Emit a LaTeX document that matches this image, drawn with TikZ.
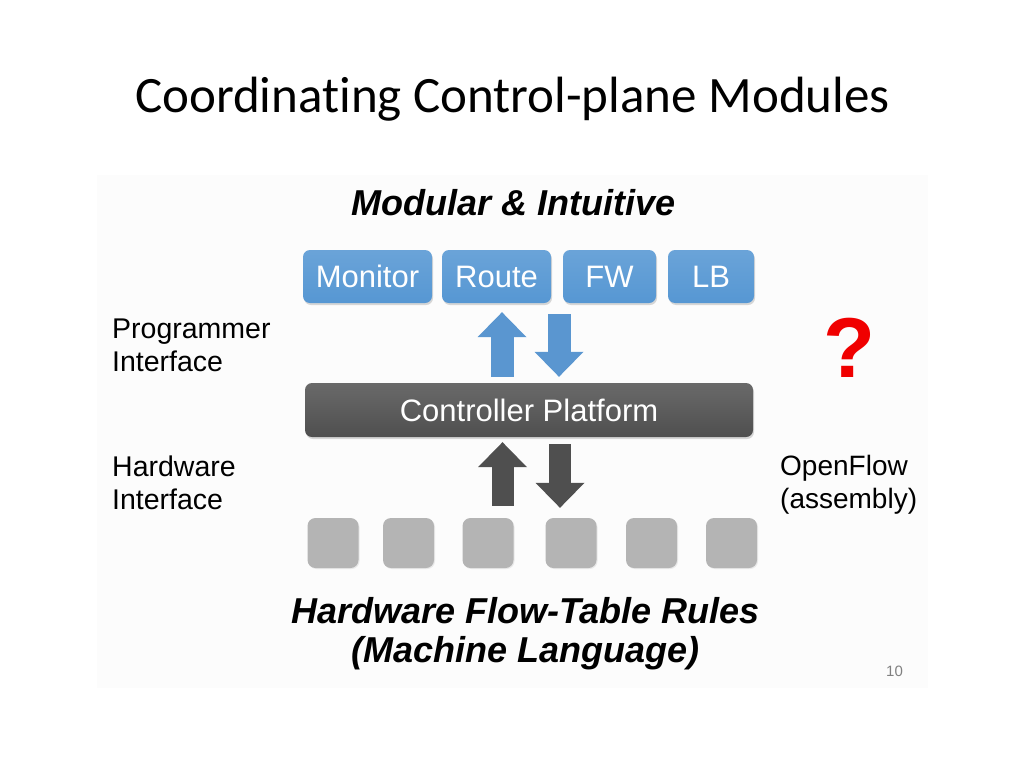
\documentclass[tikz,border=0pt]{standalone}
\usepackage{fontspec}
\setmainfont[Ligatures=NoCommon]{Carlito}
\newfontfamily\lsans{Liberation Sans}
\usetikzlibrary{arrows.meta,shadows}

\definecolor{modblue}{HTML}{5697D3}
\definecolor{arrblue}{HTML}{5A96D0}
\definecolor{ctrlgray}{HTML}{4F4F4F}
\definecolor{hwgray}{HTML}{B4B4B4}
\definecolor{qred}{HTML}{F00000}

\begin{document}
\begin{tikzpicture}[x=1pt,y=-1pt,
    modbox/.style={rounded corners=7pt,top color=modblue!88!white,bottom color=modblue,
        text=white,font=\lsans\fontsize{31}{36}\selectfont,minimum height=53pt,inner sep=0pt,
        drop shadow={opacity=0.3,shadow xshift=1pt,shadow yshift=-2pt}},
    ctrlbox/.style={rounded corners=7pt,top color=ctrlgray!85!white,bottom color=ctrlgray,
        text=white,font=\lsans\fontsize{31}{36}\selectfont,minimum width=448pt,minimum height=54pt,
        inner sep=0pt,drop shadow={opacity=0.3,shadow xshift=1pt,shadow yshift=-2pt}},
    hwbox/.style={rounded corners=8pt,fill=hwgray,minimum width=51pt,minimum height=50pt,
        inner sep=0pt,drop shadow={opacity=0.15,shadow xshift=1pt,shadow yshift=-1pt}},
    sidelabel/.style={anchor=north west,align=left,inner sep=0pt,
        font=\lsans\fontsize{28.5}{33.5}\selectfont},
    boldlabel/.style={inner sep=0pt,font=\lsans\bfseries\itshape\fontsize{36}{39}\selectfont},
    bluearr/.style={draw=arrblue,line width=23pt,-{Triangle[width=49pt,length=25pt,line width=0pt]}},
    darkarr/.style={draw=ctrlgray,line width=22pt,-{Triangle[width=49pt,length=25pt,line width=0pt]}}]

    \useasboundingbox (0,0) rectangle (1024,768);
    \fill[white] (0,0) rectangle (1024,768);
    \fill[black!1] (97,175) rectangle (928,688);

    \node (title) at (512.5,112) [anchor=base,inner sep=0pt,font=\fontsize{51}{61}\selectfont] {Coordinating Control-plane Modules};

    \node (modular) at (513.5,215) [boldlabel,anchor=base] {Modular \& Intuitive};

    % application modules
    \node (mon) at (367.5,276.5) [modbox,minimum width=129pt] {Monitor};
    \node (route) at (496.5,276.5) [modbox,minimum width=109pt] {Route};
    \node (fw) at (609.5,276.5) [modbox,minimum width=93pt] {FW};
    \node (lb) at (711,276.5) [modbox,minimum width=86pt] {LB};

    \node (ctrl) at (529,410) [ctrlbox] {Controller Platform};

    % switches
    \foreach \i/\x in {1/333,2/408.5,3/488,4/571,5/651.5,6/731.5}
        \node (sq\i) at (\x,543) [hwbox] {};

    \coordinate (bu) at (502,0);
    \coordinate (bd) at (559,0);
    \coordinate (du) at (502.5,0);
    \coordinate (dd) at (560,0);

    \draw[bluearr,shorten <=6pt,shorten >=9pt] (ctrl.north -| bu) -- (route.south -| bu);
    \draw[bluearr,shorten <=11pt,shorten >=6pt] (route.south -| bd) -- (ctrl.north -| bd);
    \draw[darkarr,shorten <=12pt,shorten >=5pt] (sq3.north -| du) -- (ctrl.south -| du);
    \draw[darkarr,shorten <=7pt,shorten >=10pt] (ctrl.south -| dd) -- (sq4.north -| dd);

    \node (prog) at (112,318.6) [sidelabel] {Programmer\\Interface};
    \node (hwif) at (112,455.6) [sidelabel] {Hardware\\Interface};
    \node (ofl) at (780,455.5) [sidelabel,font=\lsans\fontsize{28}{32.5}\selectfont] {OpenFlow\\(assembly)};
    \node (qm) at (849,347.5) [inner sep=0pt,text=qred,font=\lsans\bfseries\fontsize{85}{90}\selectfont] {?};

    \node (rules) at (525.5,597) [boldlabel,anchor=north,align=center] {Hardware Flow-Table Rules\\(Machine Language)};

    \node (pg) at (894.5,671.5) [inner sep=0pt,text=black!50,font=\lsans\fontsize{15}{18}\selectfont] {10};
\end{tikzpicture}
\end{document}
